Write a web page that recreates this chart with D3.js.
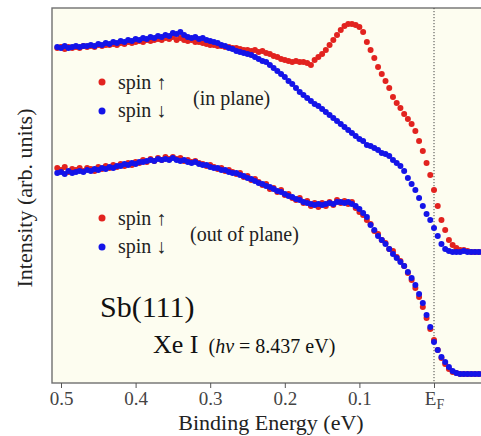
<!DOCTYPE html>
<html>
<head>
<meta charset="utf-8">
<script src="https://cdn.jsdelivr.net/npm/d3@7/dist/d3.min.js"></script>
<style>
body { margin: 0; background: #fff; }
</style>
</head>
<body>
<div id="chart"></div>
<script>
// binding energy grid (eV), 0.505 down to -0.065
const energy = d3.range(0, 115).map(i => +(0.505 - i * 0.005).toFixed(3));

// in plane, intensity (arb. units)
const inPlaneUp = [
  335,336,334,336,335,336,335,337,336,337, 336,338,337,338,338,339,338,340,339,341,
  340,341,342,341,343,342,343,344,343,345, 344,346,343,345,343,342,343,341,341,340,
  339,338,338,337,337,336,336,335,335,334, 333,333,332,333,331,332,330,329,327,326,
  324,323,322,321,322,321,321,320,318,323, 326,329,333,338,343,348,353,357,359,359,
  358,356,351,341,333,325,316,309,302,295, 286,280,275,269,264,259,252,242,232,220,
  208,193,177,163,153,143,138,135,133,133, 132,131,131,131,131
];
const inPlaneDown = [
  336,335,337,335,336,337,336,337,337,338, 337,339,338,340,339,341,340,342,341,343,
  342,344,343,345,344,346,345,347,346,348, 347,350,349,351,348,346,345,346,344,345,
  343,342,341,340,338,337,335,334,332,331, 330,329,328,326,324,322,321,318,315,312,
  309,306,302,299,295,291,288,285,282,279, 277,274,271,268,265,262,259,256,253,250,
  247,244,242,238,237,235,233,230,229,227, 223,220,217,212,205,199,193,185,177,169,
  163,155,147,139,134,132,131,131,131,132, 131,131,131,131,131
];
// out of plane
const outPlaneUp = [
  215,213,216,211,214,213,215,212,215,214, 212,216,214,217,215,218,216,219,217,220,
  218,221,220,223,221,224,222,225,223,226, 224,226,224,225,222,223,221,222,220,219,
  217,218,216,214,215,212,213,211,209,210, 206,207,203,204,201,198,199,194,195,191,
  193,188,189,185,183,185,180,182,177,180, 176,180,177,181,178,183,180,182,179,181,
  175,171,168,163,159,152,149,143,140,134, 132,126,122,117,110,103,95,86,76,65,
  54,43,33,25,19,14,11,10,9,9, 9,9,9,9,9
];
const outPlaneDown = [
  210,211,209,212,210,211,212,211,213,212, 214,213,215,214,216,215,217,217,219,218,
  220,219,221,221,222,223,222,224,223,224, 223,225,223,222,223,221,220,221,219,218,
  218,216,215,215,213,213,211,210,210,208, 207,205,204,202,200,199,197,196,194,192,
  191,189,187,186,184,183,181,180,179,178, 179,178,179,180,179,181,181,180,181,179,
  177,174,170,166,158,153,147,143,139,134, 129,125,121,117,111,105,98,89,80,68,
  56,41,33,26,21,16,12,10,9,9, 9,9,9,9,9
];

const tickValues = [0.5, 0.4, 0.3, 0.2, 0.1, 0];
const tickLabels = ["0.5", "0.4", "0.3", "0.2", "0.1", "E"];

var width = 481
var height = 436
var red = "#e2231f"
var blue = "#1414e8"
var serif = "'Liberation Serif', 'Times New Roman', Times, serif"

var svg = d3.select("#chart")
  .append("svg")
    .attr("width", width)
    .attr("height", height)
    .style("font-family", serif)

var x = d3.scaleLinear().domain([0.5, 0]).range([61, 434])
var y = d3.scaleLinear().domain([0, 375]).range([383, 8])

svg.append("clipPath").attr("id", "plot")
  .append("rect").attr("x", 52).attr("y", 8).attr("width", 440).attr("height", 375)

svg.append("rect")
  .attr("x", 52).attr("y", 8)
  .attr("width", 440).attr("height", 375)
  .attr("fill", "#fdfdf0")
  .attr("stroke", "#707070")
  .attr("stroke-width", 1.4)

// Fermi level
svg.append("line")
  .attr("x1", x(0)).attr("x2", x(0))
  .attr("y1", 8).attr("y2", 383)
  .attr("stroke", "#444")
  .attr("stroke-width", 1)
  .attr("stroke-dasharray", "1.2,1.8")

var xAxis = svg.append("g")
  .attr("transform", "translate(0,383)")
  .call(d3.axisBottom(x)
    .tickValues(tickValues)
    .tickSize(5)
    .tickPadding(4)
    .tickFormat((d, i) => tickLabels[i]))
xAxis.attr("font-family", null).attr("font-size", null)
xAxis.select(".domain").remove()
xAxis.selectAll(".tick line").attr("stroke", "#555")
xAxis.selectAll(".tick text")
  .attr("fill", "#444")
  .style("font-size", "19px")
  .style("font-family", serif)
xAxis.selectAll(".tick text").filter((d, i) => i === tickLabels.length - 1)
  .append("tspan").style("font-size", "14px").attr("dy", 4).text("F")

svg.append("text")
  .attr("x", 271).attr("y", 430)
  .attr("text-anchor", "middle")
  .attr("fill", "#222")
  .style("font-family", serif)
  .style("font-size", "22px")
  .text("Binding Energy (eV)")

svg.append("text")
  .attr("transform", "translate(32,198) rotate(-90)")
  .attr("text-anchor", "middle")
  .attr("fill", "#222")
  .style("font-family", serif)
  .style("font-size", "22px")
  .text("Intensity (arb. units)")

var series = [
  [outPlaneUp, red], [outPlaneDown, blue],
  [inPlaneUp, red], [inPlaneDown, blue]
]
var dots = svg.append("g").attr("clip-path", "url(#plot)")
series.forEach(function(s) {
  dots.append("g")
    .selectAll("circle")
    .data(s[0])
    .enter()
    .append("circle")
      .attr("cx", (d, i) => x(energy[i]))
      .attr("cy", d => y(d))
      .attr("r", 3)
      .attr("fill", s[1])
})

// legends
function legend(top, note, noteX) {
  var g = svg.append("g").style("font-family", serif).style("font-size", "20px").attr("fill", "#222")
  g.append("circle").attr("cx", 102).attr("cy", top).attr("r", 3.5).attr("fill", red)
  g.append("circle").attr("cx", 102).attr("cy", top + 29).attr("r", 3.5).attr("fill", blue)
  g.append("text").attr("x", 118).attr("y", top + 7).text("spin \u2191")
  g.append("text").attr("x", 118).attr("y", top + 35).text("spin \u2193")
  g.append("text").attr("x", noteX).attr("y", top + 23).text(note)
}
legend(82, "(in plane)", 193)
legend(218, "(out of plane)", 190)

svg.append("text")
  .attr("x", 100).attr("y", 317)
  .style("font-family", serif)
  .style("font-size", "30px")
  .attr("fill", "#111")
  .text("Sb(111)")

var xe = svg.append("text")
  .attr("x", 153).attr("y", 353)
  .style("font-family", serif)
  .attr("fill", "#111")
xe.append("tspan").style("font-size", "26px").text("Xe I")
xe.append("tspan").style("font-size", "20px").attr("dx", 10).text("(")
xe.append("tspan").style("font-size", "20px").style("font-style", "italic").text("hv")
xe.append("tspan").style("font-size", "20px").text(" = 8.437 eV)")
</script>
</body>
</html>
